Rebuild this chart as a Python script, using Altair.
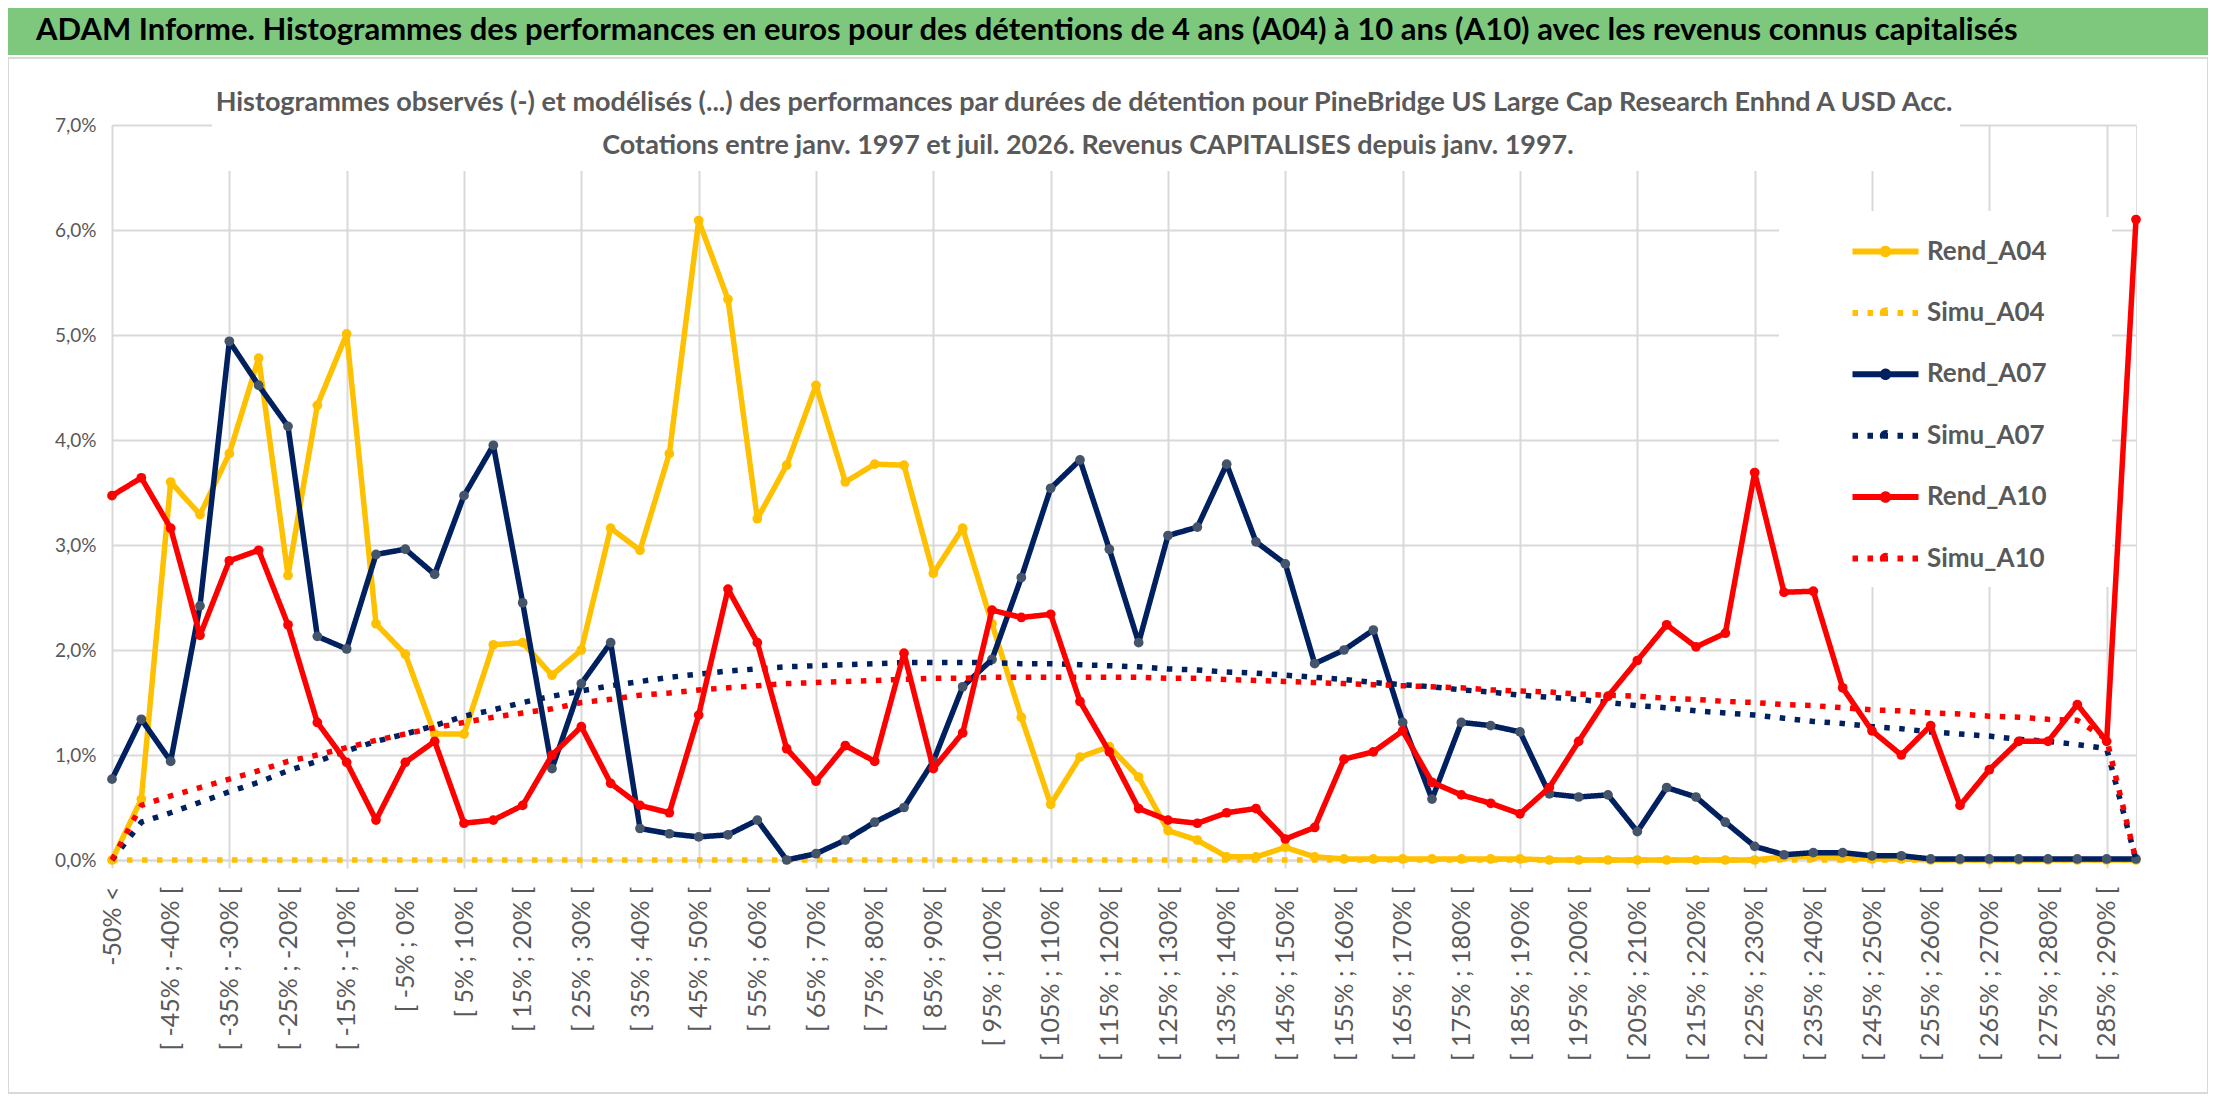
import altair as alt
import pandas as pd

title_main = ("ADAM Informe. Histogrammes des performances en euros pour des détentions "
              "de 4 ans (A04) à 10 ans (A10) avec les revenus connus capitalisés")
title_lines = [
    "Histogrammes observés (-) et modélisés (...) des performances par durées de détention "
    "pour PineBridge US Large Cap Research Enhnd A USD Acc.",
    "Cotations entre janv. 1997 et juil. 2026. Revenus CAPITALISES depuis janv. 1997.",
]

# performance buckets (x axis)
categories = ["-50% <"] + [f"[ {lo}% ; {lo + 5}% [" for lo in range(-50, 295, 5)]

# frequencies in %
rend_a04 = [0.0, 0.58, 3.60, 3.29, 3.87, 4.78, 2.71, 4.33, 5.01, 2.25,
            1.96, 1.20, 1.20, 2.05, 2.07, 1.76, 2.00, 3.16, 2.95, 3.87,
            6.09, 5.34, 3.25, 3.76, 4.52, 3.60, 3.77, 3.76, 2.73, 3.16,
            2.25, 1.36, 0.53, 0.98, 1.08, 0.79, 0.28, 0.19, 0.03, 0.03,
            0.12, 0.03, 0.01, 0.01, 0.01, 0.01, 0.01, 0.01, 0.01, 0.0,
            0.0, 0.0, 0.0, 0.0, 0.0, 0.0, 0.0, 0.03, 0.03, 0.02,
            0.01, 0.01, 0.0, 0.0, 0.0, 0.0, 0.0, 0.0, 0.0, 0.0]
simu_a04 = [0.0, 0.0, 0.0, 0.0, 0.0, 0.0, 0.0, 0.0, 0.0, 0.0,
            0.0, 0.0, 0.0, 0.0, 0.0, 0.0, 0.0, 0.0, 0.0, 0.0,
            0.0, 0.0, 0.0, 0.0, 0.0, 0.0, 0.0, 0.0, 0.0, 0.0,
            0.0, 0.0, 0.0, 0.0, 0.0, 0.0, 0.0, 0.0, 0.0, 0.0,
            0.0, 0.0, 0.0, 0.0, 0.0, 0.0, 0.0, 0.0, 0.0, 0.0,
            0.0, 0.0, 0.0, 0.0, 0.0, 0.0, 0.0, 0.0, 0.0, 0.0,
            0.0, 0.0, 0.0, 0.0, 0.0, 0.0, 0.0, 0.0, 0.0, 0.0]
rend_a07 = [0.77, 1.34, 0.94, 2.42, 4.94, 4.52, 4.13, 2.13, 2.01, 2.91,
            2.96, 2.72, 3.47, 3.95, 2.45, 0.87, 1.68, 2.07, 0.30, 0.25,
            0.22, 0.24, 0.38, 0.0, 0.06, 0.19, 0.36, 0.50, 0.94, 1.65,
            1.91, 2.69, 3.54, 3.81, 2.96, 2.07, 3.09, 3.17, 3.77, 3.03,
            2.82, 1.87, 2.00, 2.19, 1.31, 0.58, 1.31, 1.28, 1.22, 0.63,
            0.60, 0.62, 0.27, 0.69, 0.60, 0.36, 0.13, 0.05, 0.07, 0.07,
            0.04, 0.04, 0.01, 0.01, 0.01, 0.01, 0.01, 0.01, 0.01, 0.01]
simu_a07 = [0.0, 0.36, 0.45, 0.55, 0.65, 0.74, 0.85, 0.94, 1.04, 1.13,
            1.20, 1.28, 1.37, 1.43, 1.50, 1.56, 1.61, 1.66, 1.70, 1.74,
            1.77, 1.80, 1.82, 1.84, 1.85, 1.86, 1.87, 1.88, 1.88, 1.88,
            1.88, 1.87, 1.87, 1.86, 1.85, 1.84, 1.82, 1.81, 1.79, 1.78,
            1.76, 1.74, 1.72, 1.69, 1.67, 1.65, 1.62, 1.60, 1.57, 1.55,
            1.53, 1.50, 1.47, 1.45, 1.42, 1.40, 1.38, 1.35, 1.32, 1.30,
            1.27, 1.25, 1.22, 1.20, 1.18, 1.15, 1.13, 1.10, 1.06, 0.0]
rend_a10 = [3.47, 3.64, 3.16, 2.14, 2.85, 2.95, 2.24, 1.31, 0.93, 0.38,
            0.93, 1.13, 0.35, 0.38, 0.52, 1.00, 1.27, 0.73, 0.52, 0.45,
            1.38, 2.58, 2.07, 1.06, 0.75, 1.09, 0.94, 1.97, 0.87, 1.21,
            2.38, 2.31, 2.34, 1.51, 1.03, 0.49, 0.38, 0.35, 0.45, 0.49,
            0.20, 0.31, 0.96, 1.03, 1.23, 0.74, 0.62, 0.54, 0.44, 0.69,
            1.13, 1.56, 1.90, 2.24, 2.03, 2.16, 3.69, 2.55, 2.56, 1.64,
            1.23, 1.00, 1.28, 0.52, 0.86, 1.13, 1.13, 1.48, 1.13, 6.10]
simu_a10 = [0.0, 0.52, 0.61, 0.69, 0.77, 0.85, 0.94, 1.00, 1.07, 1.14,
            1.20, 1.26, 1.31, 1.36, 1.40, 1.44, 1.50, 1.53, 1.57, 1.59,
            1.62, 1.64, 1.66, 1.68, 1.69, 1.70, 1.71, 1.72, 1.73, 1.73,
            1.74, 1.74, 1.74, 1.74, 1.74, 1.74, 1.73, 1.73, 1.72, 1.71,
            1.70, 1.69, 1.68, 1.67, 1.66, 1.65, 1.64, 1.62, 1.61, 1.60,
            1.58, 1.57, 1.56, 1.54, 1.53, 1.51, 1.50, 1.48, 1.47, 1.45,
            1.43, 1.42, 1.40, 1.39, 1.37, 1.36, 1.34, 1.33, 1.15, 0.0]

series_names = ["Rend_A04", "Simu_A04", "Rend_A07", "Simu_A07", "Rend_A10", "Simu_A10"]
series_values = [rend_a04, simu_a04, rend_a07, simu_a07, rend_a10, simu_a10]
series_colors = ["#FFC000", "#FFC000", "#002060", "#002060", "#FF0000", "#FF0000"]
marker_colors = {"Rend_A04": "#FFC000", "Rend_A07": "#44546A", "Rend_A10": "#FF0000"}

rows = []
for name, vals in zip(series_names, series_values):
    for i, v in enumerate(vals):
        rows.append({"series": name, "idx": i, "val": v})
df = pd.DataFrame(rows)

grey = "#595959"
grid = "#D9D9D9"
font = "Lato"

cat_array = "[" + ",".join("'" + c + "'" for c in categories) + "]"
x_enc = alt.X("idx:Q", title=None,
              scale=alt.Scale(domain=[0, len(categories) - 1], nice=False, zero=False),
              axis=alt.Axis(values=list(range(0, len(categories), 2)),
                            labelExpr=cat_array + "[datum.value]",
                            labelAngle=270, labelFontSize=25, labelFont=font,
                            labelColor=grey, labelPadding=18, labelLimit=400,
                            tickSize=8, tickColor=grid, tickWidth=2,
                            tickOpacity={"condition": {"test": "datum.value % 4 === 0", "value": 1}, "value": 0},
                            grid=True, gridColor=grid, gridWidth=2,
                            gridOpacity={"condition": {"test": "datum.value % 4 === 0", "value": 1}, "value": 0},
                            domainColor=grid, domainWidth=2))
y_enc = alt.Y("val:Q", title=None,
              scale=alt.Scale(domain=[0, 7], nice=False),
              axis=alt.Axis(values=[0, 1, 2, 3, 4, 5, 6, 7],
                            labelExpr="replace(format(datum.value, '.1f'), '.', ',') + '%'",
                            labelFontSize=19, labelFont=font, labelColor=grey,
                            labelPadding=16, ticks=False, domain=False,
                            gridColor=grid, gridWidth=2))

legend_path = ("M-1.2,0H1.2M-0.1,0A0.1,0.1,0,1,1,0.1,0A0.1,0.1,0,1,1,-0.1,0")
leg = alt.Legend(title=None, orient="none", legendX=1733, legendY=86,
                 fillColor="white", padding=10, symbolType=legend_path,
                 symbolSize=3025, symbolStrokeWidth=6, labelFont=font,
                 labelFontSize=26, labelFontWeight="bold", labelColor=grey,
                 labelOffset=11, rowPadding=15.4)
color_scale = alt.Scale(domain=series_names, range=series_colors)
dash_scale = alt.Scale(domain=series_names,
                       range=[[1, 0], [5.5, 9.5], [1, 0], [5.5, 9.5], [1, 0], [5.5, 9.5]])

base = alt.Chart(df)

# decoration: banner, frame, white boxes behind subtitle and legend
deco = alt.Chart(pd.DataFrame({"t": [title_main], "s1": [title_lines[0]], "s2": [title_lines[1]]}))
banner = deco.mark_rect(color="#7DC87D").encode(
    x=alt.value(-104), x2=alt.value(2096), y=alt.value(-117), y2=alt.value(-70))
banner_text = deco.mark_text(align="left", baseline="middle", font=font,
                             fontSize=31, fontWeight="bold", color="black").encode(
    x=alt.value(-76), y=alt.value(-94), text="t:N")
frame = deco.mark_rect(fillOpacity=0, stroke=grid, strokeWidth=2).encode(
    x=alt.value(-104), x2=alt.value(2096), y=alt.value(-67), y2=alt.value(968))
sub_box = deco.mark_rect(color="white").encode(
    x=alt.value(100), x2=alt.value(1848), y=alt.value(-60), y2=alt.value(46))
legend_box = deco.mark_rect(color="white").encode(
    x=alt.value(1667), x2=alt.value(2000), y=alt.value(92), y2=alt.value(462))
sub_style = dict(align="center", baseline="middle", font=font, fontSize=27,
                 fontWeight="bold", color=grey)
sub_1 = deco.mark_text(**sub_style).encode(x=alt.value(972), y=alt.value(-22), text="s1:N")
sub_2 = deco.mark_text(**sub_style).encode(x=alt.value(976), y=alt.value(21), text="s2:N")

layers = [frame, sub_box, legend_box]
for name in series_names:
    sel = base.transform_filter(alt.datum.series == name)
    dotted = name.startswith("Simu")
    line = sel.mark_line(strokeWidth=5.5, strokeCap="butt" if dotted else "round",
                         strokeJoin="round").encode(
        x=x_enc, y=y_enc,
        color=alt.Color("series:N", scale=color_scale, legend=leg),
        strokeDash=alt.StrokeDash("series:N", scale=dash_scale, legend=leg))
    layers.append(line)
    if not dotted:
        layers.append(sel.mark_circle(size=95, opacity=1, color=marker_colors[name]).encode(
            x=x_enc, y=y_enc))
layers += [banner, banner_text, sub_1, sub_2]

chart = alt.layer(*layers).properties(
    width=2024, height=735,
    autosize=alt.AutoSizeParams(type="none"),
    padding={"left": 104, "top": 117, "right": 72, "bottom": 234},
).configure_view(stroke=None).configure(background="white")

chart.save("out.html", embed_options={"renderer": "svg", "actions": False})
